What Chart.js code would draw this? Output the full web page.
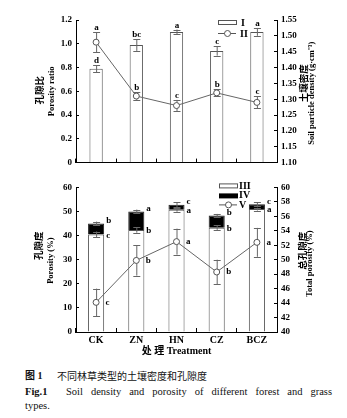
<!DOCTYPE html>
<html><head><meta charset="utf-8">
<script src="https://cdn.jsdelivr.net/npm/chart.js@4"></script>
<style>
html,body{margin:0;padding:0;background:#fff;}
body{width:347px;height:418px;position:relative;overflow:hidden;}
canvas{position:absolute;left:0;}
#c1{top:0}
#c2{top:175px}
.cap{position:absolute;font-family:"Liberation Serif","Noto Sans CJK SC",serif;color:#111;white-space:nowrap;line-height:12px;}
</style></head><body>
<canvas id="c1" width="347" height="175"></canvas>
<canvas id="c2" width="347" height="190"></canvas>
<div class="cap" style="left:25px;top:370px;font-size:10px;font-weight:bold;">图 1</div>
<div class="cap" style="left:57px;top:370px;font-size:10px;font-family:'Noto Sans CJK SC';">不同林草类型的土壤密度和孔隙度</div>
<div class="cap" style="left:25px;top:386px;font-size:10.5px;font-weight:bold;">Fig.1</div>
<div class="cap" style="left:66px;top:386px;width:266px;font-size:10.5px;white-space:normal;text-align:justify;text-align-last:justify;">Soil density and porosity of different forest and grass</div>
<div class="cap" style="left:25px;top:400px;font-size:10.5px;">types.</div>
<script>
// ---------- data ----------
const categories = ['CK', 'ZN', 'HN', 'CZ', 'BCZ'];
// top panel
const porosityRatio = [0.79, 0.99, 1.10, 0.94, 1.10];
const porosityRatioErr = [0.03, 0.05, 0.02, 0.04, 0.033];
const porosityRatioSig = ['d', 'bc', 'a', 'c', 'a'];
const particleDensity = [1.48, 1.31, 1.28, 1.32, 1.29];
const particleDensityErr = [0.032, 0.012, 0.018, 0.011, 0.019];
const particleDensitySig = ['a', 'b', 'c', 'b', 'c'];
const ratioTicks = {min: 0, max: 1.2, step: 0.2};
const densityTicks = {min: 1.10, max: 1.55, step: 0.05};
// bottom panel
const porosityIII = [40.5, 42.3, 50.7, 43.3, 51.0];
const porosityIIIErr = [1.2, 1.1, 0.8, 0.9, 0.6];
const porosityIIISig = ['c', 'b', 'a', 'b', 'a'];
const porosityIV = [4.5, 7.7, 2.1, 5.0, 2.0];
const porosityIVErr = [0.8, 0.8, 1.0, 0.7, 0.9];
const porosityIVSig = ['b', 'a', 'c', 'b', 'c'];
const totalPorosity = [44.1, 49.9, 52.5, 48.3, 52.4];
const totalPorosityErr = [1.9, 2.1, 1.8, 1.7, 2.0];
const totalPorositySig = ['c', 'b', 'a', 'b', 'a'];
const porosityTicks = {min: 0, max: 60, step: 10};
const totalTicks = {min: 40, max: 60, step: 2};

// ---------- helpers ----------
const SERIF = '"Liberation Serif", "Noto Sans CJK SC", serif';
Chart.defaults.font.family = SERIF;
Chart.defaults.color = '#000';
const tickFont = {family: SERIF, size: 9, weight: 'bold'};
const ERR = '#666';

function errBar(ctx, x, yA, yB, cap) {
  ctx.save();
  ctx.strokeStyle = ERR; ctx.lineWidth = 1;
  ctx.beginPath();
  ctx.moveTo(x + 0.5, yA); ctx.lineTo(x + 0.5, yB);
  ctx.moveTo(x - cap, Math.round(yA) + 0.5); ctx.lineTo(x + cap + 1, Math.round(yA) + 0.5);
  ctx.moveTo(x - cap, Math.round(yB) + 0.5); ctx.lineTo(x + cap + 1, Math.round(yB) + 0.5);
  ctx.stroke();
  ctx.restore();
}
function rotText(ctx, text, x, y, font) {
  ctx.save();
  ctx.translate(x, y); ctx.rotate(-Math.PI / 2);
  ctx.font = font; ctx.fillStyle = '#000';
  ctx.textAlign = 'center'; ctx.textBaseline = 'middle';
  ctx.fillText(text, 0, 0);
  ctx.restore();
}
function txt(ctx, text, x, y, align, base, font) {
  ctx.save();
  ctx.font = font || ('bold 9px ' + SERIF); ctx.fillStyle = '#000';
  ctx.textAlign = align; ctx.textBaseline = base;
  ctx.fillText(text, x, y);
  ctx.restore();
}
const yGrid = {drawOnChartArea: false, drawTicks: true, tickLength: -3, color: '#000', lineWidth: 1};
const xGrid = {drawOnChartArea: false, drawTicks: true, tickLength: -4, color: '#000', lineWidth: 1, offset: true};
const border = {display: true, color: '#000', width: 1};
const CN_T = 'bold 9.5px "Noto Sans CJK SC"';
const EN_T = 'bold 8.5px ' + SERIF;

// ---------- top chart ----------
const topPlugin = {
  id: 'topExtras',
  afterDatasetDraw(chart, args) {
    if (args.index !== 0) return;
    const ctx = chart.ctx, y = chart.scales.y, meta = chart.getDatasetMeta(0);
    porosityRatio.forEach((v, i) => {
      errBar(ctx, meta.data[i].x, y.getPixelForValue(v + porosityRatioErr[i]), y.getPixelForValue(v - porosityRatioErr[i]), 3);
    });
  },
  beforeDatasetDraw(chart, args) {
    if (args.index !== 1) return;
    const ctx = chart.ctx, y1 = chart.scales.y1, meta = chart.getDatasetMeta(1);
    particleDensity.forEach((v, i) => {
      errBar(ctx, meta.data[i].x, y1.getPixelForValue(v + particleDensityErr[i]), y1.getPixelForValue(v - particleDensityErr[i]), 3);
    });
  },
  afterDraw(chart) {
    const ctx = chart.ctx, y = chart.scales.y, y1 = chart.scales.y1, ca = chart.chartArea;
    const m0 = chart.getDatasetMeta(0), m1 = chart.getDatasetMeta(1);
    porosityRatio.forEach((v, i) => {
      txt(ctx, porosityRatioSig[i], m0.data[i].x + 0.5, y.getPixelForValue(v + porosityRatioErr[i]) - 2, 'center', 'alphabetic');
      const d = particleDensity[i];
      txt(ctx, particleDensitySig[i], m1.data[i].x + 0.5, y1.getPixelForValue(d + particleDensityErr[i]) - 2, 'center', 'alphabetic');
    });
    // legend
    const lx = ca.right - 59;
    ctx.save();
    ctx.strokeStyle = '#555'; ctx.fillStyle = '#fff'; ctx.lineWidth = 1;
    ctx.fillRect(lx, ca.top + 0.5, 18, 4); ctx.strokeRect(lx + 0.5, ca.top + 0.5, 18, 4);
    ctx.beginPath(); ctx.moveTo(lx, ca.top + 13.5); ctx.lineTo(lx + 18, ca.top + 13.5); ctx.stroke();
    ctx.beginPath(); ctx.arc(lx + 9.5, ca.top + 13.5, 3, 0, Math.PI * 2); ctx.fill(); ctx.stroke();
    ctx.restore();
    txt(ctx, 'I', lx + 23, ca.top + 3, 'left', 'middle', 'bold 10px ' + SERIF);
    txt(ctx, 'II', lx + 22, ca.top + 14, 'left', 'middle', 'bold 10px ' + SERIF);
    // axis titles
    const cy = (ca.top + ca.bottom) / 2;
    rotText(ctx, '孔隙比', 39.5, cy - 1, CN_T);
    rotText(ctx, 'Porosity ratio', 52, cy, EN_T);
    rotText(ctx, '土壤密度', 303.5, cy - 8, CN_T);
    rotText(ctx, 'Soil particle density (g·cm⁻³)', 311.5, cy + 2, EN_T);
  }
};

new Chart(document.getElementById('c1'), {
  type: 'bar',
  data: {
    labels: categories,
    datasets: [
      {type: 'bar', label: 'I', data: porosityRatio, yAxisID: 'y', backgroundColor: '#fff', borderColor: '#555', borderWidth: 1,
       barPercentage: 0.33, categoryPercentage: 1, order: 1},
      {type: 'line', label: 'II', data: particleDensity, yAxisID: 'y1', borderColor: '#666', borderWidth: 1, tension: 0,
       pointRadius: 3, pointBackgroundColor: '#fff', pointBorderColor: '#555', pointBorderWidth: 1, order: 0}
    ]
  },
  options: {
    responsive: false, animation: false, devicePixelRatio: 1,
    layout: {padding: {top: 20, left: 0, right: 0, bottom: 0}},
    plugins: {legend: {display: false}, tooltip: {enabled: false}},
    scales: {
      x: {ticks: {display: false}, grid: xGrid, border: border, afterFit(s) { s.height = 7; }},
      y: {position: 'left', min: ratioTicks.min, max: ratioTicks.max,
          ticks: {stepSize: ratioTicks.step, padding: 7, font: tickFont, color: '#000',
                  callback: v => (Math.abs(v) < 1e-9 ? '0' : Number(v).toFixed(1))},
          grid: yGrid, border: border, afterFit(s) { s.width = 76; }},
      y1: {position: 'right', min: densityTicks.min, max: densityTicks.max,
           ticks: {stepSize: densityTicks.step, padding: 7, font: tickFont, color: '#000',
                   callback: v => Number(v).toFixed(2)},
           grid: yGrid, border: border, afterFit(s) { s.width = 70; }}
    }
  },
  plugins: [topPlugin]
});

// ---------- bottom chart ----------
const botPlugin = {
  id: 'botExtras',
  afterDatasetDraw(chart, args) {
    if (args.index !== 0) return;
    const ctx = chart.ctx, y = chart.scales.y, meta = chart.getDatasetMeta(0);
    porosityIII.forEach((v, i) => {
      const x = meta.data[i].x;
      errBar(ctx, x, y.getPixelForValue(v + porosityIIIErr[i]), y.getPixelForValue(v - porosityIIIErr[i]), 3);
      const t = v + porosityIV[i];
      errBar(ctx, x, y.getPixelForValue(t + porosityIVErr[i]), y.getPixelForValue(t - porosityIVErr[i]), 3);
    });
  },
  beforeDatasetDraw(chart, args) {
    if (args.index !== 2) return;
    const ctx = chart.ctx, y1 = chart.scales.y1, meta = chart.getDatasetMeta(2);
    totalPorosity.forEach((v, i) => {
      errBar(ctx, meta.data[i].x, y1.getPixelForValue(v + totalPorosityErr[i]), y1.getPixelForValue(v - totalPorosityErr[i]), 3);
    });
  },
  afterDraw(chart) {
    const ctx = chart.ctx, y = chart.scales.y, y1 = chart.scales.y1, ca = chart.chartArea;
    const m0 = chart.getDatasetMeta(0), m2 = chart.getDatasetMeta(2);
    porosityIII.forEach((v, i) => {
      const bar = m0.data[i];
      const rx = bar.x + bar.width / 2 + 2;
      txt(ctx, porosityIIISig[i], rx, y.getPixelForValue(v) + 1, 'left', 'middle');
      txt(ctx, porosityIVSig[i], rx, y.getPixelForValue(v + porosityIV[i]) - 3, 'left', 'middle');
      const p = m2.data[i];
      txt(ctx, totalPorositySig[i], p.x + 9.5, p.y, 'left', 'middle');
    });
    // legend
    const lx = ca.right - 58;
    ctx.save();
    ctx.lineWidth = 1;
    ctx.fillStyle = '#fff'; ctx.strokeStyle = '#555';
    ctx.fillRect(lx, ca.top - 3.5, 18, 4); ctx.strokeRect(lx + 0.5, ca.top - 3.5, 18, 4);
    ctx.fillStyle = '#000';
    ctx.fillRect(lx, ca.top + 6, 19, 5);
    ctx.beginPath(); ctx.moveTo(lx, ca.top + 17.5); ctx.lineTo(lx + 18, ca.top + 17.5); ctx.stroke();
    ctx.fillStyle = '#fff';
    ctx.beginPath(); ctx.arc(lx + 9.5, ca.top + 17.5, 3, 0, Math.PI * 2); ctx.fill(); ctx.stroke();
    ctx.restore();
    const lf = 'bold 10px ' + SERIF;
    txt(ctx, 'III', lx + 20, ca.top - 1, 'left', 'middle', lf);
    txt(ctx, 'IV', lx + 20, ca.top + 8.5, 'left', 'middle', lf);
    txt(ctx, 'V', lx + 20, ca.top + 18, 'left', 'middle', lf);
    // axis titles
    const cy = (ca.top + ca.bottom) / 2;
    rotText(ctx, '孔隙度', 38.5, cy - 14, CN_T);
    rotText(ctx, 'Porosity (%)', 50.5, cy + 1, EN_T);
    rotText(ctx, '总孔隙度', 302.5, cy - 9, CN_T);
    rotText(ctx, 'Total porosity (%)', 310, cy + 4, EN_T);
  }
};

new Chart(document.getElementById('c2'), {
  type: 'bar',
  data: {
    labels: categories,
    datasets: [
      {type: 'bar', label: 'III', data: porosityIII, yAxisID: 'y', stack: 's', backgroundColor: '#fff', borderColor: '#555', borderWidth: 1,
       barPercentage: 0.4, categoryPercentage: 1, order: 1},
      {type: 'bar', label: 'IV', data: porosityIV, yAxisID: 'y', stack: 's', backgroundColor: '#000', borderColor: '#222', borderWidth: 1,
       barPercentage: 0.4, categoryPercentage: 1, order: 1},
      {type: 'line', label: 'V', data: totalPorosity, yAxisID: 'y1', borderColor: '#666', borderWidth: 1, tension: 0,
       pointRadius: 3, pointBackgroundColor: '#fff', pointBorderColor: '#555', pointBorderWidth: 1, order: 0}
    ]
  },
  options: {
    responsive: false, animation: false, devicePixelRatio: 1,
    layout: {padding: {top: 8, left: 0, right: 0, bottom: 0}},
    plugins: {legend: {display: false}, tooltip: {enabled: false}},
    scales: {
      x: {stacked: true, ticks: {padding: 6, font: {family: SERIF, size: 10, weight: 'bold'}, color: '#000', maxRotation: 0},
          grid: xGrid, border: border,
          title: {display: true, text: '处 理 Treatment', font: {family: SERIF, size: 10, weight: 'bold'}, color: '#000', padding: {top: 0, bottom: 8}},
          afterFit(s) { s.height = 33; }},
      y: {position: 'left', stacked: true, min: porosityTicks.min, max: porosityTicks.max,
          ticks: {stepSize: porosityTicks.step, padding: 7, font: tickFont, color: '#000'},
          grid: yGrid, border: border, afterFit(s) { s.width = 76; }},
      y1: {position: 'right', min: totalTicks.min, max: totalTicks.max,
           ticks: {stepSize: totalTicks.step, padding: 7, font: tickFont, color: '#000'},
           grid: yGrid, border: border, afterFit(s) { s.width = 70; }}
    }
  },
  plugins: [botPlugin]
});
</script>
</body></html>
